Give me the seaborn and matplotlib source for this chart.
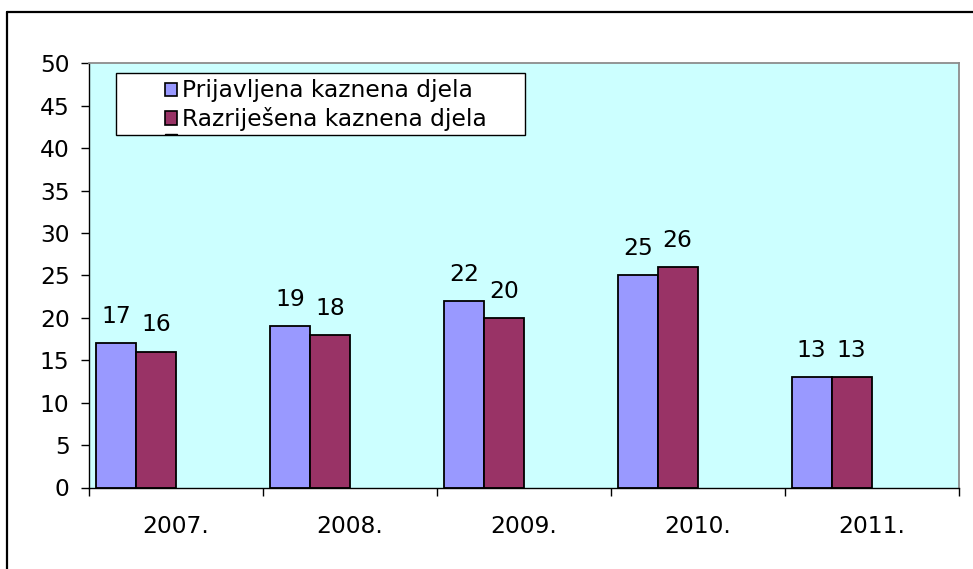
import matplotlib
matplotlib.use("Agg")
import matplotlib.pyplot as plt
import seaborn as sns
import pandas as pd
from matplotlib.patches import Patch, Rectangle
from matplotlib.lines import Line2D

# ---- data ----
years = ["2007.", "2008.", "2009.", "2010.", "2011."]
prijavljena = [17, 19, 22, 25, 13]
razrijesena = [16, 18, 20, 26, 13]
series_names = ["Prijavljena kaznena djela", "Razriješena kaznena djela"]
yticks = [0, 5, 10, 15, 20, 25, 30, 35, 40, 45, 50]

sns.set_theme(style="white")
plt.rcParams["font.family"] = ["DejaVu Sans"]
plt.rcParams["text.color"] = "black"
plt.rcParams["xtick.color"] = "black"
plt.rcParams["ytick.color"] = "black"
plt.rcParams["xtick.labelcolor"] = "black"
plt.rcParams["ytick.labelcolor"] = "black"

FS = 16.8

W, H = 973, 569
fig = plt.figure(figsize=(W / 100, H / 100), dpi=100)
fig.patch.set_facecolor("white")

ax = fig.add_axes([89 / W, 1 - 487.5 / H, (958.5 - 89) / W, (487.5 - 63.3) / H])
ax.set_facecolor("#CCFFFF")

df = pd.DataFrame({
    "year": years * 2,
    "value": prijavljena + razrijesena,
    "series": [series_names[0]] * len(years) + [series_names[1]] * len(years),
})

colors = ["#9999FF", "#993366"]
# two extra empty slots (as in the original Excel chart, which has hidden series)
hue_order = series_names + ["_s3", "_s4"]
palette = {series_names[0]: colors[0], series_names[1]: colors[1],
           "_s3": "white", "_s4": "white"}

sns.barplot(data=df, x="year", y="value", hue="series", hue_order=hue_order,
            palette=palette, order=years, width=0.92, saturation=1,
            edgecolor="black", linewidth=1.3, legend=False, ax=ax, errorbar=None)

for cont in ax.containers:
    ax.bar_label(cont, fmt="%d", padding=11, fontsize=FS, color="black")

ax.set_xlim(-0.5, len(years) - 0.5)
ax.set_ylim(0, 50)
ax.set_yticks(yticks)
ax.set_yticklabels([str(v) for v in yticks])
ax.set_xlabel("")
ax.set_ylabel("")

ax.tick_params(axis="y", which="major", direction="out", length=6, width=1,
               color="black", pad=8, labelsize=FS, left=True)
ax.tick_params(axis="x", which="major", length=0, pad=20, labelsize=FS, bottom=True)
ax.set_xticks([i - 0.5 for i in range(len(years) + 1)], minor=True)
ax.tick_params(axis="x", which="minor", direction="out", length=6, width=1,
               color="black", bottom=True)

for side in ["left", "bottom"]:
    ax.spines[side].set_color("black")
    ax.spines[side].set_linewidth(1)
for side in ["top", "right"]:
    ax.spines[side].set_color("#8c8c8c")
    ax.spines[side].set_linewidth(1.3)
    ax.spines[side].set_visible(True)

# legend box
lx0, ly0, lx1, ly1 = 116, 73.5, 525, 135
fig.add_artist(Rectangle((lx0 / W, 1 - ly1 / H), (lx1 - lx0) / W, (ly1 - ly0) / H,
                         transform=fig.transFigure, facecolor="white",
                         edgecolor="black", linewidth=1, zorder=5))
handles = [Patch(facecolor=colors[i], edgecolor="black", linewidth=1.2,
                 label=series_names[i]) for i in range(2)]
leg = fig.legend(handles=handles, loc="upper left",
                 bbox_to_anchor=(165 / W, 1 - 79.5 / H), frameon=False,
                 fontsize=FS, handlelength=0.5, handleheight=0.5,
                 handletextpad=0.25, labelspacing=0.2, borderpad=0, borderaxespad=0)
leg.set_zorder(6)
# clipped third (hidden) legend entry
fig.add_artist(Line2D([165 / W, 177 / W], [1 - 133.5 / H, 1 - 133.5 / H],
                      transform=fig.transFigure, color="black", linewidth=1, zorder=7))

# outer frame (left and top edges)
fig.add_artist(Line2D([7 / W, 7 / W], [0, 1 - 12 / H], transform=fig.transFigure,
                      color="black", linewidth=1.6))
fig.add_artist(Line2D([7 / W, 1], [1 - 12 / H, 1 - 12 / H], transform=fig.transFigure,
                      color="black", linewidth=1.6))

fig.savefig("out.png", dpi=100, facecolor="white")
